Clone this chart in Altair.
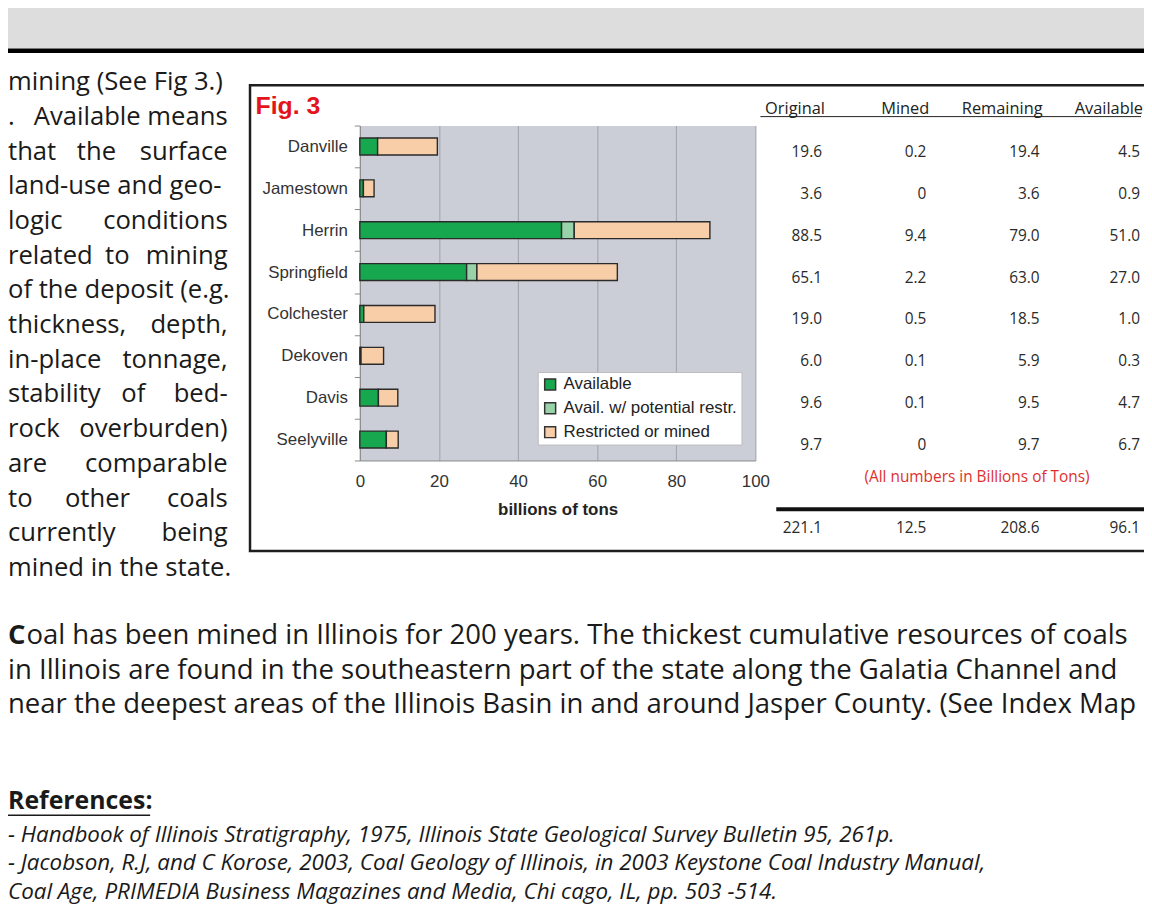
import altair as alt
import pandas as pd

# ---------------- data ----------------
coals = ["Danville", "Jamestown", "Herrin", "Springfield", "Colchester", "Dekoven", "Davis", "Seelyville"]
available = [4.5, 0.9, 51.0, 27.0, 1.0, 0.3, 4.7, 6.7]
potential = [0.0, 0.0, 3.2, 2.6, 0.0, 0.0, 0.0, 0.0]
restricted = [15.1, 2.7, 34.3, 35.5, 18.0, 5.7, 4.9, 3.0]
categories = ["Available", "Avail. w/ potential restr.", "Restricted or mined"]
cat_colors = ["#17A84F", "#98D2A9", "#F8CEA8"]
x_ticks = [0, 20, 40, 60, 80, 100]

table_headers = ["Original", "Mined", "Remaining", "Available"]
col_original = ["19.6", "3.6", "88.5", "65.1", "19.0", "6.0", "9.6", "9.7"]
col_mined = ["0.2", "0", "9.4", "2.2", "0.5", "0.1", "0.1", "0"]
col_remaining = ["19.4", "3.6", "79.0", "63.0", "18.5", "5.9", "9.5", "9.7"]
col_available = ["4.5", "0.9", "51.0", "27.0", "1.0", "0.3", "4.7", "6.7"]
table_totals = ["221.1", "12.5", "208.6", "96.1"]
table_note = "(All numbers in Billions of Tons)"

left_column = [
    ["mining (See Fig 3.)"],
    [".", "Available means"],
    ["that", "the", "surface"],
    ["land-use and geo-"],
    ["logic", "conditions"],
    ["related", "to", "mining"],
    ["of the deposit (e.g."],
    ["thickness,", "depth,"],
    ["in-place", "tonnage,"],
    ["stability", "of", "bed-"],
    ["rock", "overburden)"],
    ["are", "comparable"],
    ["to", "other", "coals"],
    ["currently", "being"],
    ["mined in the state."],
]
paragraph = [
    "oal has been mined in Illinois for 200 years.  The thickest cumulative resources of coals",
    "in Illinois are found in the southeastern part of the state along the Galatia Channel and",
    "near the deepest areas of the Illinois Basin in and around Jasper County. (See Index Map",
]
references = [
    "- Handbook of Illinois Stratigraphy, 1975, Illinois State Geological Survey Bulletin 95, 261p.",
    "- Jacobson, R.J, and C Korose, 2003, Coal Geology of Illinois, in 2003 Keystone Coal Industry Manual,",
    "Coal Age, PRIMEDIA Business Magazines and Media, Chi cago, IL, pp. 503 -514.",
]

# ---------------- layout helpers (page pixels -> plot pixels) ----------------
OX, OY = 362.0, 123.5
W, H = 398, 337
TOTAL_W, TOTAL_H = 1143, 900


def px(x):
    return x - OX


def py(y):
    return y - OY


one = pd.DataFrame({"a": [0]})
BODY_FONT = "Open Sans"
CHART_FONT = "Liberation Sans"

# ---------------- bars ----------------
rows = []
for i, c in enumerate(coals):
    for k, vals in enumerate([available, potential, restricted]):
        if vals[i] > 0:
            rows.append({"coal": c, "category": categories[k], "value": vals[i], "k": k})
bar_df = pd.DataFrame(rows)

y_axis = alt.Axis(
    title=None, labelFont=CHART_FONT, labelFontSize=17, labelColor="#333333",
    tickBand="extent", tickSize=5.5, tickColor="#8A8A8A", domainColor="#8A8A8A",
    labelPadding=7, grid=False,
)
y_enc = alt.Y("coal:N", sort=coals, scale=alt.Scale(paddingInner=0, paddingOuter=0), axis=y_axis)

bars = alt.Chart(bar_df).mark_bar(size=17, stroke="#2A2A2A", strokeWidth=1.4).encode(
    y=y_enc,
    x=alt.X(
        "value:Q", stack="zero",
        scale=alt.Scale(domain=[0, 100], nice=False),
        axis=alt.Axis(
            values=x_ticks, grid=True, gridColor="#9EA1A8", ticks=False, tickSize=0,
            labelPadding=13, domainColor="#8A8A8A", labelFont=CHART_FONT, labelFontSize=17,
            labelColor="#333333", labelFlush=False, title="billions of tons",
            titleFont=CHART_FONT, titleFontSize=17, titleFontWeight="bold",
            titleColor="#222222", titlePadding=12,
        ),
    ),
    fill=alt.Fill(
        "category:N",
        scale=alt.Scale(domain=categories, range=cat_colors),
        legend=alt.Legend(
            title=None, orient="none", legendX=px(541), legendY=py(371.5),
            direction="vertical", fillColor="white", strokeColor="#BBBBBB", padding=4,
            symbolType="square", symbolSize=121, symbolStrokeColor="#333333",
            symbolStrokeWidth=1.5, symbolOpacity=1, labelFont=CHART_FONT, labelFontSize=17,
            labelColor="#222222", rowPadding=6, labelOffset=5, labelLimit=300,
        ),
    ),
    order=alt.Order("k:Q"),
)

# ---------------- table ----------------
tbl_df = pd.DataFrame({
    "coal": coals, "c0": col_original, "c1": col_mined, "c2": col_remaining, "c3": col_available,
})
col_right = [827, 932, 1046, 1147]
table_layers = []
for j, field in enumerate(["c0", "c1", "c2", "c3"]):
    table_layers.append(
        alt.Chart(tbl_df).mark_text(
            align="right", baseline="middle", dy=5.5, font=BODY_FONT, fontSize=15.5, color="#2A2A2A"
        ).encode(
            y=y_enc,
            x=alt.value(px(col_right[j])),
            text=f"{field}:N",
        )
    )

head_df = pd.DataFrame({"t": table_headers, "x": [px(v + 3) for v in col_right], "y": [py(107)] * 4})
tot_df = pd.DataFrame({"t": table_totals, "x": [px(v) for v in col_right], "y": [py(528)] * 4})


def text_layer(df, align, **kw):
    return alt.Chart(df).mark_text(align=align, baseline="middle", **kw).encode(
        x=alt.X("x:Q", scale=None, axis=None),
        y=alt.Y("y:Q", scale=None, axis=None),
        text="t:N",
    )


headers = text_layer(head_df, "right", font=BODY_FONT, fontSize=16.5, color="#222222")
totals = text_layer(tot_df, "right", font=BODY_FONT, fontSize=15.5, color="#2A2A2A")
note = text_layer(pd.DataFrame({"t": [table_note], "x": [px(983)], "y": [py(477)]}), "center",
                  font=BODY_FONT, fontSize=15.5, color="#E0302E")
fig_title = text_layer(pd.DataFrame({"t": ["Fig. 3"], "x": [px(257)], "y": [py(104)]}), "left",
                       font=CHART_FONT, fontSize=25, fontWeight="bold", color="#E3141B")

# ---------------- page text ----------------
LEFT_X, RIGHT_X = 8, 229
mid_centres = [97, 118, 134, 98]
lc_left, lc_right, lc_mid = [], [], []
m = 0
for i, words in enumerate(left_column):
    y = py(80 + 34.9 * i)
    lc_left.append({"t": words[0], "x": px(LEFT_X), "y": y})
    if len(words) >= 2:
        lc_right.append({"t": words[-1], "x": px(RIGHT_X), "y": y})
    if len(words) == 3:
        lc_mid.append({"t": words[1], "x": px(mid_centres[m]), "y": y})
        m += 1

BODY_SIZE = 25.8
left_txt = text_layer(pd.DataFrame(lc_left), "left", font=BODY_FONT, fontSize=BODY_SIZE, color="#1A1A1A")
right_txt = text_layer(pd.DataFrame(lc_right), "right", font=BODY_FONT, fontSize=BODY_SIZE, color="#1A1A1A")
mid_txt = text_layer(pd.DataFrame(lc_mid), "center", font=BODY_FONT, fontSize=BODY_SIZE, color="#1A1A1A")

PARA_SIZE = 27.7
para_rows = []
for i, line in enumerate(paragraph):
    para_rows.append({"t": line, "x": px(26.5 if i == 0 else 8), "y": py(637 + 35 * i)})
para_txt = text_layer(pd.DataFrame(para_rows), "left", font=BODY_FONT, fontSize=PARA_SIZE, color="#1A1A1A")
drop_c = text_layer(pd.DataFrame({"t": ["C"], "x": [px(8)], "y": [py(637)]}), "left",
                    font=BODY_FONT, fontSize=PARA_SIZE, fontWeight="bold", color="#1A1A1A")

ref_head = text_layer(pd.DataFrame({"t": ["References:"], "x": [px(8)], "y": [py(803)]}), "left",
                      font=BODY_FONT, fontSize=25, fontWeight="bold", color="#1A1A1A")
ref_rows = [{"t": r, "x": px(8), "y": py(837 + 29 * i)} for i, r in enumerate(references)]
ref_txt = text_layer(pd.DataFrame(ref_rows), "left", font=BODY_FONT, fontSize=22.5,
                     fontStyle="italic", color="#1A1A1A")

# ---------------- page decorations ----------------
def rect(x1, x2, y1, y2, **kw):
    return alt.Chart(one).mark_rect(**kw).encode(
        x=alt.value(px(x1)), x2=alt.value(px(x2)), y=alt.value(py(y1)), y2=alt.value(py(y2))
    )


def hrule(x1, x2, y, **kw):
    return alt.Chart(one).mark_rule(**kw).encode(
        x=alt.value(px(x1)), x2=alt.value(px(x2)), y=alt.value(py(y))
    )


gray_band = rect(0, 1160, 0, 46, fill="#DDDDDD")
black_band = rect(0, 1160, 46, 50.5, fill="#000000")
box = rect(251.5, 1170, 83, 551.5, fill="white", fillOpacity=0, stroke="#1E1E1E", strokeWidth=2.5)
head_line = hrule(765, 1148, 114.5, color="#222222", strokeWidth=1)
total_line = hrule(781, 1170, 509.5, color="#111111", strokeWidth=4)
ref_line = hrule(8, 151, 817.5, color="#1A1A1A", strokeWidth=1.5)

chart = alt.layer(
    gray_band, black_band, box, bars, *table_layers, headers, head_line, totals, total_line,
    note, fig_title, left_txt, right_txt, mid_txt, drop_c, para_txt, ref_head, ref_line, ref_txt,
).properties(
    width=W, height=H,
    autosize=alt.AutoSizeParams(type="none"),
    padding={"left": OX - 8, "top": OY - 8, "right": TOTAL_W - (OX - 8) - W,
             "bottom": TOTAL_H - (OY - 8) - H},
    background="white",
).configure_view(fill="#CBCED6", stroke="transparent")

chart.save("out.html", embed_options={"renderer": "svg", "actions": False})
